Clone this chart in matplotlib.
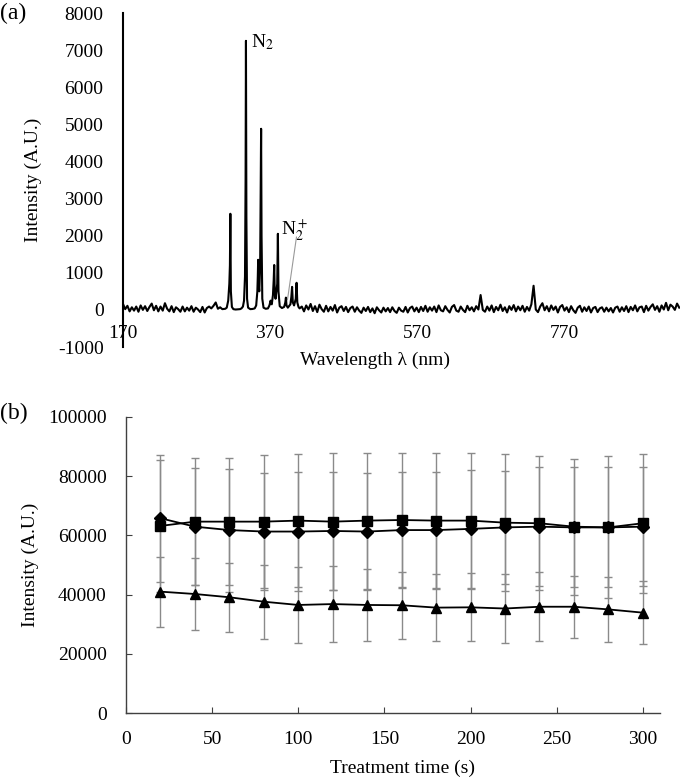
import numpy as np
import matplotlib
matplotlib.use('Agg')
import matplotlib.pyplot as plt

plt.rcParams['font.family'] = ['Liberation Serif', 'DejaVu Serif']
plt.rcParams['mathtext.fontset'] = 'stix'
plt.rcParams['font.size'] = 14
plt.rcParams['axes.unicode_minus'] = False

# ---- (a) emission spectrum ----
# baseline readings, 3 nm apart, left of the N2 band (170-305 nm)
base_left = [160, 20, 110, -40, 70, -20, 90, -50, 120, 0, 100, -30, 80, 170, -10, 110, -40, 90, -20, 180,
             30, -40, 100, -60, 70, 20, -50, 90, -40, 60, -20, 100, -50, 60, 10, -60, 80, -70, 50, 90,
             40, 110, 200, 30, 70, 20]
# N2 / N2+ band region (309-410 nm)
band_wl = [309, 311, 313, 314.5, 315.3, 315.9, 316.6, 318, 320, 323, 326, 329, 331, 333, 334.5,
           335.8, 336.6, 337.1, 337.7, 338.6, 340, 343, 346, 349, 351, 352.6, 353.2, 353.7, 354.3,
           355.2, 356.4, 357.1, 357.7, 358.3, 359.3, 361, 364, 367, 369, 370.6, 371.2, 372.2,
           373.8, 374.8, 375.5, 376.2, 377.3, 379.6, 380.5, 381.3, 383, 386, 389, 390.6, 391.4,
           392.2, 394, 397.5, 398.8, 399.8, 400.8, 402.5, 404.8, 405.9, 406.9, 408.5, 410]
band_int = [30, 60, 250, 700, 1200, 2590, 500, 80, 20, 10, 15, 20, 40, 90, 250,
            900, 3500, 7250, 2500, 300, 60, 20, 25, 40, 120, 500, 900, 1350, 700,
            500, 1200, 3000, 4880, 2000, 300, 60, 30, 40, 120, 250, 200, 150,
            400, 800, 1210, 500, 300, 700, 2050, 500, 100, 50, 80, 200, 330,
            120, 60, 150, 350, 620, 200, 120, 300, 730, 200, 80, 40]
# baseline readings, 3 nm apart, 413-926 nm
base_right = [90, -40, 120, 10, 160, -30, 100, -60, 140, 20, -50, 110, -40, 80, -20, 130, -70, 60, 100, -30,
              80, -60, 50, 90, -50, 70, -20, -80, 60, -30, 80, -60, 40, -90, 70, -10, -70, 60, -40, 50,
              -60, 70, -30, -80, 60, -20, -50, 80, -70, 50, 90, -40, 60, -60, 80, -30, 110, -50, 70, -20,
              90, -60, 120, -10, -40, 100, 0, -70, 80, 130, -20, -50, 90, 0, -60, 110, -10, 70, -40, 100,
              10, 400, 0, -50, 90, -20, 120, -60, 80, -10, 140, -30, 70, -70, 100, 0, 130, -40, 90, -10,
              110, -50, 80, -20, 150, 650, 10, -60, 90, 180, -10, 100, -40, 120, 0, 90, -70, 80, 130, -20,
              70, -60, 100, -10, -80, 60, 110, -50, 70, -30, 90, -70, 50, 80, -60, 40, 70, -50, 60, -40,
              50, -70, 60, 90, -50, 70, -30, 100, -60, 80, -10, 120, -40, 70, 90, -60, 110, -20, 80, 150,
              0, 100, -50, 120, 10, 190, -10, 140, 90, 0, 170, 60]

wl = np.concatenate([170 + 3 * np.arange(len(base_left)), band_wl,
                     413 + 3 * np.arange(len(base_right))])
inten = np.concatenate([base_left, band_int, base_right])

# ---- (b) intensity vs treatment time ----
time_s = [20, 40, 60, 80, 100, 120, 140, 160, 180, 200, 220, 240, 260, 280, 300]
diamond = [65800, 62950, 61800, 61300, 61300, 61500, 61300, 61800, 61800, 62200, 62700, 62950, 62700, 62700, 62950]
diamond_err = [21500, 19700, 20800, 19700, 20000, 20000, 19700, 19700, 19700, 19900, 19200, 20000, 20300, 20300, 20000]
square = [63200, 64650, 64650, 64650, 65000, 64650, 65000, 65200, 65000, 65000, 64300, 64100, 62950, 62700, 64100]
square_err = [22300, 21400, 21400, 22500, 22500, 23100, 22950, 22750, 22950, 22950, 23200, 22700, 23000, 24000, 23400]
triangle = [41000, 40200, 39100, 37600, 36500, 36800, 36500, 36400, 35600, 35700, 35300, 35900, 35900, 35000, 33900]
triangle_err = [11800, 12000, 11700, 12500, 12800, 12700, 12300, 11400, 11200, 11500, 11500, 11600, 10500, 11100, 10700]

fig = plt.figure(figsize=(6.8, 7.79), dpi=100)

# panel (a)
ax1 = fig.add_axes([123 / 680, 1 - 347 / 779, 557 / 680, 334 / 779])
ax1.plot(wl, inten, color='black', lw=1.5)
ax1.set_xlim(170, 927)
ax1.set_ylim(-1000, 8000)
ax1.set_xticks([170, 370, 570, 770])
ax1.set_yticks(range(-1000, 8001, 1000))
for s in ['top', 'right']:
    ax1.spines[s].set_visible(False)
ax1.spines['bottom'].set_position(('data', 0))
ax1.spines['bottom'].set_color('none')
ax1.spines['left'].set_linewidth(1.5)
ax1.tick_params(axis='x', length=0, pad=11)
ax1.tick_params(axis='y', length=0, pad=14)
ax1.set_xlabel('Wavelength λ (nm)', va='center')
ax1.xaxis.set_label_coords(0.4524, -0.039)
ax1.set_ylabel('Intensity (A.U.)', va='center')
ax1.yaxis.set_label_coords(-0.1616, 0.5)
ax1.text(344, 7080, 'N$_2$', va='baseline', ha='left')
ax1.text(385, 2020, 'N$_2^+$', va='baseline', ha='left')
ax1.annotate('', xy=(393.5, 270), xytext=(405.8, 1966),
             arrowprops=dict(arrowstyle='-', color='0.6', lw=0.8, shrinkA=0, shrinkB=0))

# panel (b)
ax2 = fig.add_axes([126 / 680, 1 - 713 / 779, 534 / 680, 296 / 779])
for y, err in [(diamond, diamond_err), (square, square_err), (triangle, triangle_err)]:
    ax2.errorbar(time_s, y, yerr=err, fmt='none', ecolor='#8a8a8a', elinewidth=1,
                 capsize=3, capthick=1)
for y, mk, ms in [(diamond, 'D', 6), (square, 's', 6.5), (triangle, '^', 7)]:
    ax2.plot(time_s, y, color='black', lw=1.3, marker=mk, markersize=ms)
ax2.set_xlim(0, 310)
ax2.set_ylim(0, 100000)
ax2.set_xticks([0, 50, 100, 150, 200, 250, 300])
ax2.set_yticks(range(0, 100001, 20000))
for s in ['top', 'right']:
    ax2.spines[s].set_visible(False)
for s in ['left', 'bottom']:
    ax2.spines[s].set_color('#404040')
    ax2.spines[s].set_linewidth(1)
ax2.tick_params(axis='x', direction='in', length=4, pad=13, color='#404040')
ax2.tick_params(axis='y', direction='in', length=4, pad=14, color='#404040')
ax2.set_xlabel('Treatment time (s)', va='center')
ax2.xaxis.set_label_coords(0.517, -0.186)
ax2.set_ylabel('Intensity (A.U.)', va='center')
ax2.yaxis.set_label_coords(-0.18, 0.5)

fig.text(0.0, 1 - 13 / 779, '(a)', va='center', ha='left', fontsize=17)
fig.text(0.0, 1 - 413 / 779, '(b)', va='center', ha='left', fontsize=17)

fig.savefig('out.png', dpi=100)
